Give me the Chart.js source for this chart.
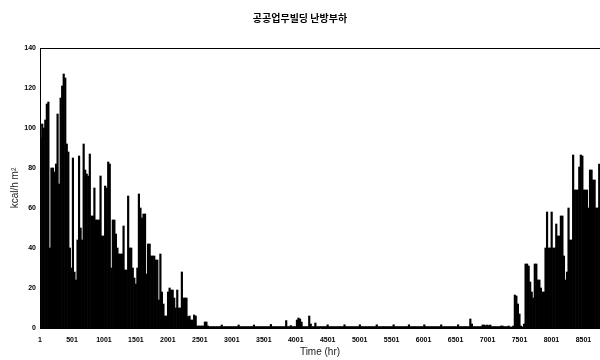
<!DOCTYPE html>
<html><head><meta charset="utf-8">
<script src="https://cdn.jsdelivr.net/npm/chart.js@4.4.1/dist/chart.umd.min.js"></script>
<style>html,body{margin:0;padding:0;background:#fff}#wrap{width:600px;height:360px}</style>
</head><body><div id="wrap"><canvas id="c" width="600" height="360"></canvas></div>
<script>
const titleText = '공공업무빌딩 난방부하';
const xTitle = 'Time (hr)';
const yTitle = 'kcal/h m²';
const xTickLabels = ['1','501','1001','1501','2001','2501','3001','3501','4001','4501','5001','5501','6001','6501','7001','7501','8001','8501'];
const yTickValues = [0,20,40,60,80,100,120,140];
// daily peak heating load (kcal/h m2), one value per day of the year
const dailyPeakLoad = [
  95,102,100,104,112,113,40,80,80,78,
  82,107,72,115,121,127,125,92,88,40,
  30,85,28,24,44,86,50,44,92,79,
  77,76,87,56,56,70,54,54,54,76,
  46,46,71,70,83,82,30,54,54,47,
  40,37,37,37,51,29,29,66,40,40,
  30,25,22,30,67,60,55,57,57,27,
  42,42,36,36,36,34,34,14,37,18,
  12,6,6,18,20,19,19,15,10,19,
  10,10,28,15,15,15,5.7,6,4,4,
  6.5,6,1,1,1,1,1,3,3,1,
  0.7,0.7,0.7,0.7,0.7,0.7,0.7,0.7,1.5,0.7,
  0.7,0.7,0.7,0.7,0.7,0.7,0.7,0.7,0.7,1.5,
  0.7,0.7,0.7,0.7,0.7,0.7,0.7,0.7,0.7,1.5,
  0.7,0.7,0.7,0.7,0.7,0.7,0.7,0.7,0.7,0.7,
  1.8,0.7,0.7,0.7,0.7,0.7,0.7,0.7,0.7,0.7,
  3.7,0.7,0.7,1.2,0.7,0.7,0.7,4,5,4.5,
  3,0.7,0.7,0.7,0.7,6,2,0.7,0.7,2.5,
  0.7,0.7,0.7,0.7,0.7,0.7,0.7,1.6,0.7,0.7,
  0.7,0.7,0.7,0.7,0.7,0.7,0.7,0.7,1.6,0.7,
  0.7,0.7,0.7,0.7,0.7,0.7,0.7,0.7,1.6,0.7,
  0.7,0.7,0.7,0.7,0.7,0.7,0.7,0.7,0.7,1.6,
  0.7,0.7,0.7,0.7,0.7,0.7,0.7,0.7,0.7,0.7,
  1.6,0.7,0.7,0.7,0.7,0.7,0.7,0.7,0.7,0.7,
  1.6,0.7,0.7,0.7,0.7,0.7,0.7,0.7,0.7,0.7,
  1.6,0.7,0.7,0.7,0.7,0.7,0.7,0.7,0.7,0.7,
  0.7,1.6,0.7,0.7,0.7,0.7,0.7,0.7,0.7,0.7,
  0.7,0.7,1.6,0.7,0.7,0.7,0.7,0.7,0.7,0.7,
  4.5,2,0.7,0.7,0.7,0.7,0.7,0.7,1.5,1.5,
  1.2,1.5,1.2,1.5,0.7,0.7,0.7,0.7,0.7,0.7,
  1,1,0.7,0.7,0.7,1,0.5,0.5,1,16.5,
  16,12,7,1,0.5,2,32,32,31,23,
  18,15,32,32,24,24,20,18,18,40,
  58,40,40,58,40,40,52,46,46,56,
  56,36,24,28,60,44,44,86.5,69,69,
  69,80.5,86.5,86,69,69,69,60,79,79,
  74,74,60,60,82
];
const hoursPerDay = 24;

const tickFont = {family: '"Liberation Sans Narrow","Liberation Sans",Arial,sans-serif', size: 7, weight: 'bold'};
const frameTop = {
  id: 'frameTop',
  afterDraw(chart) {
    const {ctx, chartArea: a} = chart;
    ctx.save();
    ctx.strokeStyle = '#000';
    ctx.lineWidth = 1;
    ctx.beginPath();
    ctx.moveTo(a.left, a.top + 0.5);
    ctx.lineTo(a.right, a.top + 0.5);
    ctx.stroke();
    ctx.restore();
  }
};

new Chart(document.getElementById('c'), {
  type: 'bar',
  data: {
    datasets: [{
      data: dailyPeakLoad.map((v, i) => ({x: i * hoursPerDay + hoursPerDay / 2, y: v})),
      backgroundColor: '#000',
      borderWidth: 0,
      barPercentage: 1,
      categoryPercentage: 1
    }]
  },
  options: {
    responsive: false,
    animation: false,
    devicePixelRatio: 1,
    layout: {padding: {left: 0, right: 0, top: 0, bottom: 0}},
    plugins: {
      legend: {display: false},
      tooltip: {enabled: false},
      title: {
        display: true, text: titleText, color: '#000',
        font: {family: '"Noto Sans CJK KR",sans-serif', size: 10, weight: 'bold'},
        padding: {top: 12, bottom: 24}
      }
    },
    scales: {
      x: {
        type: 'linear', min: 1, max: 8760, offset: false,
        afterBuildTicks: s => { s.ticks = xTickLabels.map(l => ({value: parseInt(l, 10)})); },
        afterFit: s => { s.height = 32; },
        grid: {display: false, drawTicks: false, offset: false},
        border: {display: true, color: '#000', width: 1},
        ticks: {autoSkip: false, maxRotation: 0, padding: 8, color: '#000', font: tickFont,
          callback: (v) => String(v)},
        title: {display: true, text: xTitle, color: '#222',
          font: {family: '"Liberation Sans",Arial,sans-serif', size: 10}, padding: {top: 0, bottom: 2}}
      },
      y: {
        min: 0, max: 140,
        afterBuildTicks: s => { s.ticks = yTickValues.map(v => ({value: v})); },
        afterFit: s => { s.width = 40; },
        grid: {display: false, drawTicks: false},
        border: {display: true, color: '#000', width: 1},
        ticks: {padding: 4, color: '#000', font: tickFont},
        title: {display: true, text: yTitle, color: '#222',
          font: {family: '"Liberation Sans",Arial,sans-serif', size: 10}, padding: {top: 9, bottom: 0}}
      }
    }
  },
  plugins: [frameTop]
});
</script></body></html>
